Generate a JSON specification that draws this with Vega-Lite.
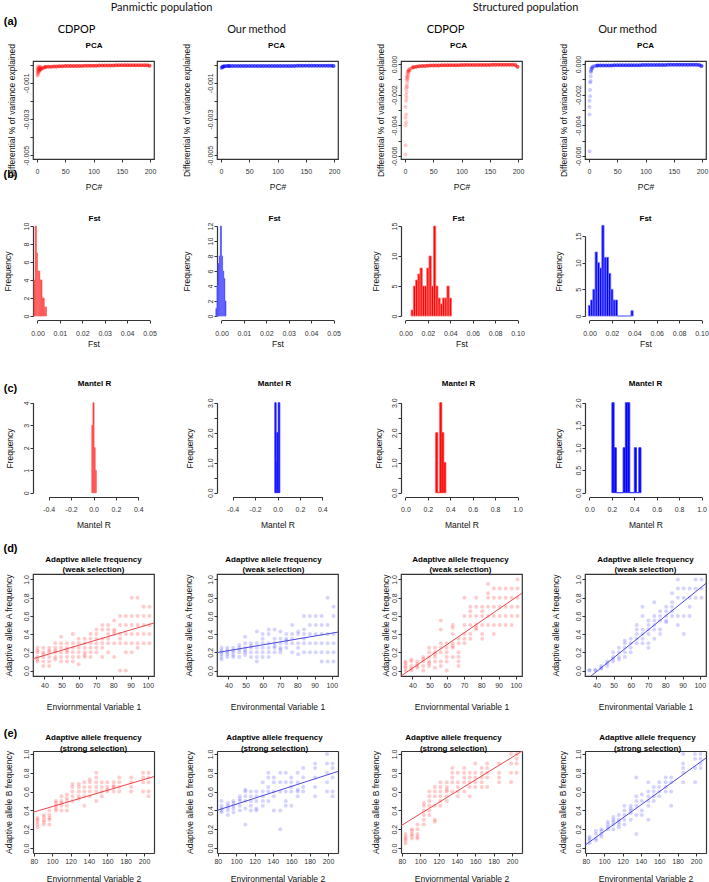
{
"$schema": "https://vega.github.io/schema/vega-lite/v6.json",
"padding": {"left": 2, "top": 1, "right": 0, "bottom": 0},
"bounds": "flush",
"align": "each",
"columns": 4,
"spacing": {"row": 63, "column": 63},
"config": {
 "view": {"stroke": null},
 "axis": {"grid": false, "labelFont": "Liberation Sans", "labelFontSize": 7, "labelColor": "#333", "titleFont": "Liberation Sans", "titleFontSize": 8.5, "titleFontWeight": "normal", "titleColor": "#111", "tickColor": "#333", "tickSize": 3, "domainColor": "#333", "domainWidth": 1.2, "labelFlush": false, "labelOverlap": false, "titleAlign": "center", "titleBaseline": "middle"},
 "axisLeft": {"labelAngle": 270, "labelAlign": "center", "labelBaseline": "bottom", "labelPadding": 1, "titleAngle": 270},
 "axisBottom": {"labelAngle": 0, "labelBaseline": "top", "labelAlign": "center", "titleAngle": 0},
 "axisTop": {"labels": false, "ticks": false, "titleAngle": 0, "titleFontWeight": "bold", "titleFontSize": 8, "titleColor": "#000"},
 "axisRight": {"labels": false, "ticks": false, "titleAngle": 0, "titleFontWeight": "bold", "titleFontSize": 11, "titleColor": "#000"},
 "title": {"font": "Lato", "fontSize": 11, "fontWeight": "normal", "color": "#111", "frame": "group", "anchor": "middle", "baseline": "bottom"}
},
"datasets": {
"p1": [{"x":1,"y":-0.0006},{"x":1,"y":-0.0004},{"x":1,"y":-0.0002},{"x":2,"y":-0.0005},{"x":2,"y":-0.0003},{"x":2,"y":-0.0001},{"x":3,"y":-0.0004},{"x":3,"y":-0.00025},{"x":4,"y":-0.00035},{"x":4,"y":-0.0002},{"x":5,"y":-0.0003},{"x":5,"y":-0.00015},{"x":6,"y":-0.00028},{"x":6,"y":-0.00012},{"x":7,"y":-0.00025},{"x":8,"y":-0.00022},{"x":9,"y":-0.0002},{"x":10,"y":-0.00018},{"x":12,"y":-0.00016},{"x":14,"y":-0.00014},
{"x":15,"y":-0.00013},{"x":20,"y":-0.00012},{"x":25,"y":-0.00011},{"x":30,"y":-0.0001},{"x":35,"y":-0.0001},{"x":40,"y":-0.00009},{"x":45,"y":-0.00009},{"x":50,"y":-0.00008},{"x":55,"y":-0.00008},{"x":60,"y":-0.00008},{"x":65,"y":-0.00007},{"x":70,"y":-0.00007},{"x":75,"y":-0.00007},{"x":80,"y":-0.00007},{"x":85,"y":-0.00006},{"x":90,"y":-0.00006},{"x":95,"y":-0.00006},{"x":100,"y":-0.00006},{"x":105,"y":-0.00006},{"x":110,"y":-0.00005},{"x":115,"y":-0.00005},{"x":120,"y":-0.00005},{"x":125,"y":-0.00005},{"x":130,"y":-0.00005},{"x":135,"y":-0.00005},{"x":140,"y":-0.00004},{"x":145,"y":-0.00004},{"x":150,"y":-0.00004},{"x":155,"y":-0.00004},{"x":160,"y":-0.00004},{"x":165,"y":-0.00004},{"x":170,"y":-0.00003},{"x":175,"y":-0.00003},{"x":180,"y":-0.00003},{"x":185,"y":-0.00003},{"x":190,"y":-0.00003},{"x":195,"y":-0.00003},{"x":199,"y":-0.00006}],
"p2": [{"x":1,"y":-0.00018},{"x":2,"y":-0.00014},{"x":3,"y":-0.00012},{"x":4,"y":-0.0001},{"x":5,"y":-0.0001},{"x":6,"y":-0.00009},{"x":8,"y":-0.00009},{"x":10,"y":-0.00008},{"x":12,"y":-0.00008},{"x":14,"y":-0.00008},
{"x":15,"y":-0.00008},{"x":20,"y":-0.00008},{"x":25,"y":-0.00008},{"x":30,"y":-0.00008},{"x":35,"y":-0.00008},{"x":40,"y":-0.00008},{"x":45,"y":-0.00008},{"x":50,"y":-0.00008},{"x":55,"y":-0.00008},{"x":60,"y":-0.00008},{"x":65,"y":-0.00007},{"x":70,"y":-0.00007},{"x":75,"y":-0.00007},{"x":80,"y":-0.00007},{"x":85,"y":-0.00007},{"x":90,"y":-0.00007},{"x":95,"y":-0.00007},{"x":100,"y":-0.00007},{"x":105,"y":-0.00007},{"x":110,"y":-0.00007},{"x":115,"y":-0.00007},{"x":120,"y":-0.00007},{"x":125,"y":-0.00007},{"x":130,"y":-0.00007},{"x":135,"y":-0.00006},{"x":140,"y":-0.00006},{"x":145,"y":-0.00006},{"x":150,"y":-0.00006},{"x":155,"y":-0.00006},{"x":160,"y":-0.00006},{"x":165,"y":-0.00006},{"x":170,"y":-0.00006},{"x":175,"y":-0.00006},{"x":180,"y":-0.00006},{"x":185,"y":-0.00006},{"x":190,"y":-0.00006},{"x":195,"y":-0.00006},{"x":199,"y":-0.00007}],
"p3": [{"x":1,"y":-0.0059},{"x":1,"y":-0.0053},{"x":1,"y":-0.004},{"x":1,"y":-0.0035},{"x":1,"y":-0.0028},{"x":2,"y":-0.0038},{"x":2,"y":-0.0033},{"x":2,"y":-0.0024},{"x":2,"y":-0.002},{"x":2,"y":-0.0016},{"x":3,"y":-0.0022},{"x":3,"y":-0.0018},{"x":3,"y":-0.0014},{"x":3,"y":-0.001},{"x":3,"y":-0.0008},{"x":4,"y":-0.0015},{"x":4,"y":-0.0012},{"x":4,"y":-0.0009},{"x":4,"y":-0.0006},{"x":5,"y":-0.001},{"x":5,"y":-0.0008},{"x":5,"y":-0.0005},{"x":6,"y":-0.0007},{"x":6,"y":-0.0005},{"x":6,"y":-0.0004},{"x":7,"y":-0.0005},{"x":7,"y":-0.0004},{"x":8,"y":-0.0004},{"x":8,"y":-0.0003},{"x":10,"y":-0.0003},{"x":12,"y":-0.00025},{"x":14,"y":-0.0002},
{"x":15,"y":-0.0002},{"x":20,"y":-0.00017},{"x":25,"y":-0.00015},{"x":30,"y":-0.00013},{"x":35,"y":-0.00012},{"x":40,"y":-0.00011},{"x":45,"y":-0.0001},{"x":50,"y":-0.0001},{"x":55,"y":-0.00009},{"x":60,"y":-0.00009},{"x":65,"y":-0.00008},{"x":70,"y":-0.00008},{"x":75,"y":-0.00008},{"x":80,"y":-0.00007},{"x":85,"y":-0.00007},{"x":90,"y":-0.00007},{"x":95,"y":-0.00007},{"x":100,"y":-0.00006},{"x":105,"y":-0.00006},{"x":110,"y":-0.00006},{"x":115,"y":-0.00006},{"x":120,"y":-0.00006},{"x":125,"y":-0.00006},{"x":130,"y":-0.00006},{"x":135,"y":-0.00006},{"x":140,"y":-0.00006},{"x":145,"y":-0.00006},{"x":150,"y":-0.00006},{"x":155,"y":-0.00005},{"x":160,"y":-0.00005},{"x":165,"y":-0.00005},{"x":170,"y":-0.00005},{"x":175,"y":-0.00005},{"x":180,"y":-0.00005},{"x":185,"y":-0.00005},{"x":190,"y":-0.00005},{"x":195,"y":-0.00006},{"x":199,"y":-0.00018}],
"p4": [{"x":1,"y":-0.0057},{"x":1,"y":-0.0033},{"x":1,"y":-0.0028},{"x":1,"y":-0.0024},{"x":2,"y":-0.0021},{"x":2,"y":-0.0017},{"x":2,"y":-0.0012},{"x":3,"y":-0.0011},{"x":3,"y":-0.0008},{"x":3,"y":-0.0005},{"x":4,"y":-0.0005},{"x":4,"y":-0.0004},{"x":4,"y":-0.0003},{"x":5,"y":-0.0003},{"x":5,"y":-0.0002},{"x":6,"y":-0.00025},{"x":7,"y":-0.00018},{"x":8,"y":-0.00015},{"x":10,"y":-0.00013},{"x":12,"y":-0.00012},{"x":14,"y":-0.00011},
{"x":15,"y":-0.0001},{"x":20,"y":-0.0001},{"x":25,"y":-0.0001},{"x":30,"y":-0.00009},{"x":35,"y":-0.00009},{"x":40,"y":-0.00009},{"x":45,"y":-0.00008},{"x":50,"y":-0.00008},{"x":55,"y":-0.00008},{"x":60,"y":-0.00008},{"x":65,"y":-0.00007},{"x":70,"y":-0.00007},{"x":75,"y":-0.00007},{"x":80,"y":-0.00007},{"x":85,"y":-0.00007},{"x":90,"y":-0.00007},{"x":95,"y":-0.00006},{"x":100,"y":-0.00006},{"x":105,"y":-0.00006},{"x":110,"y":-0.00006},{"x":115,"y":-0.00006},{"x":120,"y":-0.00006},{"x":125,"y":-0.00006},{"x":130,"y":-0.00006},{"x":135,"y":-0.00006},{"x":140,"y":-0.00005},{"x":145,"y":-0.00005},{"x":150,"y":-0.00005},{"x":155,"y":-0.00005},{"x":160,"y":-0.00005},{"x":165,"y":-0.00005},{"x":170,"y":-0.00005},{"x":175,"y":-0.00005},{"x":180,"y":-0.00005},{"x":185,"y":-0.00005},{"x":190,"y":-0.00005},{"x":195,"y":-0.00006},{"x":199,"y":-0.00012}],
"hb1": [{"a":-0.0015,"b":-0.001,"n":4},{"a":-0.001,"b":-0.0005,"n":10},{"a":-0.0005,"b":0,"n":7},{"a":0,"b":0.0005,"n":5},{"a":0.0005,"b":0.001,"n":5},{"a":0.001,"b":0.0015,"n":4},{"a":0.0015,"b":0.002,"n":4},{"a":0.002,"b":0.0025,"n":2},{"a":0.0025,"b":0.003,"n":2},{"a":0.003,"b":0.0035,"n":1},{"a":0.0035,"b":0.004,"n":1}],
"hb2": [{"a":-0.0025,"b":-0.002,"n":1},{"a":-0.002,"b":-0.0015,"n":4},{"a":-0.0015,"b":-0.001,"n":7},{"a":-0.001,"b":-0.0005,"n":8},{"a":-0.0005,"b":0,"n":12},{"a":0,"b":0.0005,"n":8},{"a":0.0005,"b":0.001,"n":6},{"a":0.001,"b":0.0015,"n":5},{"a":0.0015,"b":0.002,"n":2}],
"hb3": [{"a":0.005,"b":0.007,"n":1},{"a":0.007,"b":0.009,"n":5},{"a":0.009,"b":0.011,"n":6},{"a":0.011,"b":0.013,"n":7},{"a":0.013,"b":0.015,"n":8},{"a":0.015,"b":0.017,"n":5},{"a":0.017,"b":0.019,"n":5},{"a":0.019,"b":0.021,"n":8},{"a":0.021,"b":0.023,"n":10},{"a":0.023,"b":0.025,"n":5},{"a":0.025,"b":0.027,"n":15},{"a":0.027,"b":0.029,"n":5},{"a":0.029,"b":0.031,"n":3},{"a":0.031,"b":0.033,"n":2},{"a":0.033,"b":0.035,"n":3},{"a":0.035,"b":0.037,"n":3},{"a":0.037,"b":0.039,"n":5},{"a":0.039,"b":0.041,"n":3}],
"hb4": [{"a":-0.001,"b":0.001,"n":2},{"a":0.001,"b":0.003,"n":3},{"a":0.003,"b":0.005,"n":5},{"a":0.005,"b":0.007,"n":12},{"a":0.007,"b":0.009,"n":10},{"a":0.009,"b":0.011,"n":9},{"a":0.011,"b":0.013,"n":17},{"a":0.013,"b":0.015,"n":11},{"a":0.015,"b":0.017,"n":11},{"a":0.017,"b":0.019,"n":8},{"a":0.019,"b":0.021,"n":5},{"a":0.021,"b":0.023,"n":3},{"a":0.023,"b":0.025,"n":3},{"a":0.025,"b":0.027,"n":0},{"a":0.027,"b":0.029,"n":0},{"a":0.029,"b":0.031,"n":0},{"a":0.031,"b":0.033,"n":0},{"a":0.033,"b":0.035,"n":0},{"a":0.035,"b":0.037,"n":0},{"a":0.037,"b":0.039,"n":1}],
"hc1": [{"a":-0.015,"b":-0.005,"n":3},{"a":-0.005,"b":0.005,"n":4},{"a":0.005,"b":0.015,"n":2},{"a":0.015,"b":0.025,"n":1}],
"hc2": [{"a":-0.024,"b":-0.012,"n":3},{"a":-0.012,"b":-0.006,"n":1},{"a":-0.006,"b":0.006,"n":2},{"a":0.006,"b":0.021,"n":3}],
"hc3": [{"a":0.27,"b":0.288,"n":2},{"a":0.288,"b":0.306,"n":0},{"a":0.306,"b":0.324,"n":3},{"a":0.324,"b":0.342,"n":2},{"a":0.342,"b":0.36,"n":1}],
"hc4": [{"a":0.2,"b":0.22,"n":2},{"a":0.22,"b":0.24,"n":1},{"a":0.24,"b":0.26,"n":0},{"a":0.26,"b":0.28,"n":0},{"a":0.28,"b":0.3,"n":0},{"a":0.3,"b":0.32,"n":1},{"a":0.32,"b":0.34,"n":2},{"a":0.34,"b":0.36,"n":2},{"a":0.36,"b":0.38,"n":0},{"a":0.38,"b":0.4,"n":0},{"a":0.4,"b":0.42,"n":1},{"a":0.42,"b":0.44,"n":0},{"a":0.44,"b":0.46,"n":1}],
"d1": [{"x":36,"y":0.1},{"x":36,"y":0.15},{"x":36,"y":0.2},{"x":36,"y":0.22},{"x":36,"y":0.25},{"x":36,"y":0.12},{"x":39.4,"y":0.05},{"x":39.4,"y":0.1},{"x":39.4,"y":0.15},{"x":39.4,"y":0.2},{"x":39.4,"y":0.25},{"x":39.4,"y":0.18},{"x":42.8,"y":0.1},{"x":42.8,"y":0.15},{"x":42.8,"y":0.2},{"x":42.8,"y":0.22},{"x":42.8,"y":0.25},{"x":42.8,"y":0.05},{"x":46.3,"y":0.12},{"x":46.3,"y":0.15},{"x":46.3,"y":0.2},{"x":46.3,"y":0.22},{"x":46.3,"y":0.25},{"x":46.3,"y":0.3},{"x":49.7,"y":0.1},{"x":49.7,"y":0.15},{"x":49.7,"y":0.2},{"x":49.7,"y":0.25},{"x":49.7,"y":0.3},{"x":49.7,"y":0.37},{"x":53.1,"y":0.1},{"x":53.1,"y":0.15},{"x":53.1,"y":0.2},{"x":53.1,"y":0.22},{"x":53.1,"y":0.25},{"x":53.1,"y":0.3},{"x":56.5,"y":0.1},{"x":56.5,"y":0.15},{"x":56.5,"y":0.2},{"x":56.5,"y":0.25},{"x":56.5,"y":0.3},{"x":56.5,"y":0.4},{"x":59.9,"y":0.07},{"x":59.9,"y":0.15},{"x":59.9,"y":0.2},{"x":59.9,"y":0.25},{"x":59.9,"y":0.3},{"x":59.9,"y":0.35},{"x":63.4,"y":0.15},{"x":63.4,"y":0.17},{"x":63.4,"y":0.2},{"x":63.4,"y":0.25},{"x":63.4,"y":0.3},{"x":63.4,"y":0.35},{"x":66.8,"y":0.15},{"x":66.8,"y":0.2},{"x":66.8,"y":0.25},{"x":66.8,"y":0.3},{"x":66.8,"y":0.35},{"x":66.8,"y":0.4},{"x":70.2,"y":0.2},{"x":70.2,"y":0.25},{"x":70.2,"y":0.3},{"x":70.2,"y":0.35},{"x":70.2,"y":0.4},{"x":70.2,"y":0.45},{"x":73.6,"y":0.15},{"x":73.6,"y":0.25},{"x":73.6,"y":0.3},{"x":73.6,"y":0.35},{"x":73.6,"y":0.45},{"x":73.6,"y":0.5},{"x":77,"y":0.2},{"x":77,"y":0.3},{"x":77,"y":0.35},{"x":77,"y":0.4},{"x":77,"y":0.45},{"x":77,"y":0.5},{"x":80.5,"y":0.15},{"x":80.5,"y":0.3},{"x":80.5,"y":0.4},{"x":80.5,"y":0.43},{"x":80.5,"y":0.45},{"x":80.5,"y":0.55},{"x":83.9,"y":0},{"x":83.9,"y":0.3},{"x":83.9,"y":0.35},{"x":83.9,"y":0.4},{"x":83.9,"y":0.5},{"x":83.9,"y":0.6},{"x":87.3,"y":0},{"x":87.3,"y":0.2},{"x":87.3,"y":0.3},{"x":87.3,"y":0.4},{"x":87.3,"y":0.5},{"x":87.3,"y":0.6},{"x":90.7,"y":0.2},{"x":90.7,"y":0.3},{"x":90.7,"y":0.4},{"x":90.7,"y":0.5},{"x":90.7,"y":0.6},{"x":90.7,"y":0.8},{"x":94.1,"y":0.25},{"x":94.1,"y":0.3},{"x":94.1,"y":0.4},{"x":94.1,"y":0.5},{"x":94.1,"y":0.6},{"x":94.1,"y":0.8},{"x":97.6,"y":0.3},{"x":97.6,"y":0.4},{"x":97.6,"y":0.5},{"x":97.6,"y":0.6},{"x":97.6,"y":0.7},{"x":101,"y":0.3},{"x":101,"y":0.4},{"x":101,"y":0.5},{"x":101,"y":0.6},{"x":101,"y":0.7}],
"d2": [{"x":36,"y":0.12},{"x":36,"y":0.15},{"x":36,"y":0.18},{"x":36,"y":0.2},{"x":36,"y":0.22},{"x":36,"y":0.25},{"x":39.4,"y":0.15},{"x":39.4,"y":0.18},{"x":39.4,"y":0.2},{"x":39.4,"y":0.22},{"x":39.4,"y":0.25},{"x":42.8,"y":0.15},{"x":42.8,"y":0.17},{"x":42.8,"y":0.2},{"x":42.8,"y":0.22},{"x":42.8,"y":0.25},{"x":46.3,"y":0.15},{"x":46.3,"y":0.2},{"x":46.3,"y":0.23},{"x":46.3,"y":0.25},{"x":46.3,"y":0.28},{"x":49.7,"y":0.17},{"x":49.7,"y":0.2},{"x":49.7,"y":0.22},{"x":49.7,"y":0.25},{"x":49.7,"y":0.3},{"x":49.7,"y":0.37},{"x":53.1,"y":0.15},{"x":53.1,"y":0.2},{"x":53.1,"y":0.25},{"x":53.1,"y":0.27},{"x":53.1,"y":0.3},{"x":56.5,"y":0.1},{"x":56.5,"y":0.15},{"x":56.5,"y":0.2},{"x":56.5,"y":0.25},{"x":56.5,"y":0.3},{"x":56.5,"y":0.43},{"x":59.9,"y":0.15},{"x":59.9,"y":0.2},{"x":59.9,"y":0.25},{"x":59.9,"y":0.3},{"x":59.9,"y":0.35},{"x":59.9,"y":0.4},{"x":63.4,"y":0.15},{"x":63.4,"y":0.2},{"x":63.4,"y":0.25},{"x":63.4,"y":0.3},{"x":63.4,"y":0.4},{"x":63.4,"y":0.45},{"x":66.8,"y":0.2},{"x":66.8,"y":0.25},{"x":66.8,"y":0.27},{"x":66.8,"y":0.3},{"x":66.8,"y":0.35},{"x":66.8,"y":0.45},{"x":70.2,"y":0.2},{"x":70.2,"y":0.23},{"x":70.2,"y":0.25},{"x":70.2,"y":0.3},{"x":70.2,"y":0.35},{"x":70.2,"y":0.43},{"x":73.6,"y":0.25},{"x":73.6,"y":0.3},{"x":73.6,"y":0.33},{"x":73.6,"y":0.35},{"x":73.6,"y":0.4},{"x":77,"y":0.2},{"x":77,"y":0.3},{"x":77,"y":0.35},{"x":77,"y":0.4},{"x":77,"y":0.5},{"x":80.5,"y":0.18},{"x":80.5,"y":0.25},{"x":80.5,"y":0.3},{"x":80.5,"y":0.4},{"x":80.5,"y":0.43},{"x":83.9,"y":0.2},{"x":83.9,"y":0.3},{"x":83.9,"y":0.35},{"x":83.9,"y":0.4},{"x":83.9,"y":0.45},{"x":83.9,"y":0.6},{"x":87.3,"y":0.2},{"x":87.3,"y":0.3},{"x":87.3,"y":0.4},{"x":87.3,"y":0.5},{"x":87.3,"y":0.6},{"x":90.7,"y":0.2},{"x":90.7,"y":0.3},{"x":90.7,"y":0.4},{"x":90.7,"y":0.5},{"x":90.7,"y":0.6},{"x":94.1,"y":0.1},{"x":94.1,"y":0.2},{"x":94.1,"y":0.3},{"x":94.1,"y":0.4},{"x":94.1,"y":0.5},{"x":94.1,"y":0.6},{"x":97.6,"y":0.1},{"x":97.6,"y":0.2},{"x":97.6,"y":0.3},{"x":97.6,"y":0.4},{"x":97.6,"y":0.5},{"x":97.6,"y":0.8},{"x":101,"y":0.1},{"x":101,"y":0.2},{"x":101,"y":0.3},{"x":101,"y":0.4},{"x":101,"y":0.6},{"x":101,"y":0.7}],
"d3": [{"x":36,"y":0},{"x":36,"y":0.03},{"x":36,"y":0.05},{"x":36,"y":0.08},{"x":36,"y":0.1},{"x":39.4,"y":0},{"x":39.4,"y":0.02},{"x":39.4,"y":0.05},{"x":39.4,"y":0.1},{"x":39.4,"y":0.12},{"x":42.8,"y":0.03},{"x":42.8,"y":0.05},{"x":42.8,"y":0.07},{"x":42.8,"y":0.1},{"x":46.3,"y":0},{"x":46.3,"y":0.05},{"x":46.3,"y":0.1},{"x":46.3,"y":0.13},{"x":46.3,"y":0.15},{"x":49.7,"y":0.05},{"x":49.7,"y":0.08},{"x":49.7,"y":0.1},{"x":49.7,"y":0.15},{"x":49.7,"y":0.2},{"x":49.7,"y":0.25},{"x":53.1,"y":0.03},{"x":53.1,"y":0.1},{"x":53.1,"y":0.15},{"x":53.1,"y":0.18},{"x":53.1,"y":0.2},{"x":53.1,"y":0.25},{"x":56.5,"y":0.05},{"x":56.5,"y":0.1},{"x":56.5,"y":0.2},{"x":56.5,"y":0.25},{"x":56.5,"y":0.3},{"x":56.5,"y":0.45},{"x":56.5,"y":0.55},{"x":59.9,"y":0},{"x":59.9,"y":0.1},{"x":59.9,"y":0.15},{"x":59.9,"y":0.2},{"x":59.9,"y":0.25},{"x":59.9,"y":0.3},{"x":63.4,"y":0.15},{"x":63.4,"y":0.25},{"x":63.4,"y":0.27},{"x":63.4,"y":0.3},{"x":63.4,"y":0.4},{"x":63.4,"y":0.47},{"x":63.4,"y":0.5},{"x":66.8,"y":0.05},{"x":66.8,"y":0.1},{"x":66.8,"y":0.15},{"x":66.8,"y":0.2},{"x":66.8,"y":0.3},{"x":66.8,"y":0.35},{"x":70.2,"y":0.3},{"x":70.2,"y":0.35},{"x":70.2,"y":0.4},{"x":70.2,"y":0.5},{"x":70.2,"y":0.6},{"x":70.2,"y":0.8},{"x":73.6,"y":0.35},{"x":73.6,"y":0.4},{"x":73.6,"y":0.5},{"x":73.6,"y":0.6},{"x":73.6,"y":0.65},{"x":73.6,"y":0.7},{"x":77,"y":0.45},{"x":77,"y":0.47},{"x":77,"y":0.5},{"x":77,"y":0.6},{"x":77,"y":0.7},{"x":77,"y":0.8},{"x":80.5,"y":0.35},{"x":80.5,"y":0.4},{"x":80.5,"y":0.5},{"x":80.5,"y":0.6},{"x":80.5,"y":0.65},{"x":80.5,"y":0.7},{"x":83.9,"y":0.5},{"x":83.9,"y":0.6},{"x":83.9,"y":0.7},{"x":83.9,"y":0.8},{"x":83.9,"y":0.85},{"x":83.9,"y":0.95},{"x":87.3,"y":0.4},{"x":87.3,"y":0.5},{"x":87.3,"y":0.6},{"x":87.3,"y":0.7},{"x":87.3,"y":0.8},{"x":87.3,"y":0.9},{"x":90.7,"y":0.5},{"x":90.7,"y":0.6},{"x":90.7,"y":0.7},{"x":90.7,"y":0.8},{"x":90.7,"y":0.9},{"x":94.1,"y":0.5},{"x":94.1,"y":0.6},{"x":94.1,"y":0.7},{"x":94.1,"y":0.8},{"x":94.1,"y":0.9},{"x":97.6,"y":0.5},{"x":97.6,"y":0.6},{"x":97.6,"y":0.7},{"x":97.6,"y":0.8},{"x":97.6,"y":0.9},{"x":101,"y":0.6},{"x":101,"y":0.7},{"x":101,"y":0.8},{"x":101,"y":0.9},{"x":101,"y":1}],
"d4": [{"x":36,"y":0},{"x":36,"y":0.005},{"x":39.4,"y":0},{"x":39.4,"y":0.01},{"x":42.8,"y":0.02},{"x":42.8,"y":0.03},{"x":42.8,"y":0.05},{"x":46.3,"y":0.05},{"x":46.3,"y":0.08},{"x":46.3,"y":0.1},{"x":49.7,"y":0.1},{"x":49.7,"y":0.13},{"x":49.7,"y":0.15},{"x":49.7,"y":0.2},{"x":53.1,"y":0.12},{"x":53.1,"y":0.15},{"x":53.1,"y":0.2},{"x":53.1,"y":0.25},{"x":56.5,"y":0.15},{"x":56.5,"y":0.2},{"x":56.5,"y":0.25},{"x":56.5,"y":0.3},{"x":56.5,"y":0.33},{"x":59.9,"y":0.2},{"x":59.9,"y":0.25},{"x":59.9,"y":0.3},{"x":59.9,"y":0.35},{"x":63.4,"y":0.3},{"x":63.4,"y":0.35},{"x":63.4,"y":0.4},{"x":63.4,"y":0.45},{"x":63.4,"y":0.5},{"x":66.8,"y":0.3},{"x":66.8,"y":0.35},{"x":66.8,"y":0.4},{"x":66.8,"y":0.45},{"x":66.8,"y":0.6},{"x":66.8,"y":0.7},{"x":70.2,"y":0.25},{"x":70.2,"y":0.3},{"x":70.2,"y":0.4},{"x":70.2,"y":0.45},{"x":70.2,"y":0.5},{"x":70.2,"y":0.55},{"x":73.6,"y":0.35},{"x":73.6,"y":0.45},{"x":73.6,"y":0.5},{"x":73.6,"y":0.55},{"x":73.6,"y":0.6},{"x":73.6,"y":0.75},{"x":77,"y":0.4},{"x":77,"y":0.45},{"x":77,"y":0.55},{"x":77,"y":0.6},{"x":77,"y":0.65},{"x":80.5,"y":0.53},{"x":80.5,"y":0.55},{"x":80.5,"y":0.6},{"x":80.5,"y":0.65},{"x":80.5,"y":0.7},{"x":83.9,"y":0.6},{"x":83.9,"y":0.65},{"x":83.9,"y":0.7},{"x":83.9,"y":0.75},{"x":83.9,"y":0.85},{"x":87.3,"y":0.5},{"x":87.3,"y":0.6},{"x":87.3,"y":0.8},{"x":87.3,"y":0.9},{"x":87.3,"y":1},{"x":90.7,"y":0.4},{"x":90.7,"y":0.6},{"x":90.7,"y":0.8},{"x":90.7,"y":0.9},{"x":94.1,"y":0.6},{"x":94.1,"y":0.7},{"x":94.1,"y":0.8},{"x":94.1,"y":0.9},{"x":97.6,"y":0.8},{"x":97.6,"y":0.9},{"x":97.6,"y":1},{"x":101,"y":0.8},{"x":101,"y":0.9},{"x":101,"y":1}],
"e1": [{"x":84,"y":0.22},{"x":84,"y":0.25},{"x":84,"y":0.28},{"x":84,"y":0.3},{"x":84,"y":0.32},{"x":91,"y":0.25},{"x":91,"y":0.28},{"x":91,"y":0.3},{"x":91,"y":0.33},{"x":91,"y":0.35},{"x":97,"y":0.25},{"x":97,"y":0.3},{"x":97,"y":0.32},{"x":97,"y":0.35},{"x":97,"y":0.4},{"x":104,"y":0.4},{"x":104,"y":0.42},{"x":104,"y":0.45},{"x":104,"y":0.48},{"x":104,"y":0.5},{"x":110,"y":0.4},{"x":110,"y":0.45},{"x":110,"y":0.48},{"x":110,"y":0.5},{"x":110,"y":0.55},{"x":116,"y":0.4},{"x":116,"y":0.45},{"x":116,"y":0.5},{"x":116,"y":0.53},{"x":116,"y":0.57},{"x":122,"y":0.5},{"x":122,"y":0.55},{"x":122,"y":0.6},{"x":122,"y":0.65},{"x":122,"y":0.68},{"x":129,"y":0.52},{"x":129,"y":0.55},{"x":129,"y":0.6},{"x":129,"y":0.65},{"x":129,"y":0.68},{"x":135,"y":0.45},{"x":135,"y":0.55},{"x":135,"y":0.6},{"x":135,"y":0.65},{"x":135,"y":0.7},{"x":141,"y":0.55},{"x":141,"y":0.6},{"x":141,"y":0.65},{"x":141,"y":0.7},{"x":141,"y":0.73},{"x":148,"y":0.5},{"x":148,"y":0.6},{"x":148,"y":0.65},{"x":148,"y":0.7},{"x":148,"y":0.75},{"x":148,"y":0.8},{"x":154,"y":0.55},{"x":154,"y":0.6},{"x":154,"y":0.65},{"x":154,"y":0.7},{"x":160,"y":0.6},{"x":160,"y":0.62},{"x":160,"y":0.65},{"x":160,"y":0.7},{"x":167,"y":0.6},{"x":167,"y":0.65},{"x":167,"y":0.66},{"x":167,"y":0.7},{"x":173,"y":0.6},{"x":173,"y":0.65},{"x":173,"y":0.7},{"x":173,"y":0.75},{"x":186,"y":0.6},{"x":186,"y":0.65},{"x":186,"y":0.7},{"x":186,"y":0.75},{"x":199,"y":0.6},{"x":199,"y":0.7},{"x":199,"y":0.75},{"x":199,"y":0.8},{"x":205,"y":0.55},{"x":205,"y":0.6},{"x":205,"y":0.7},{"x":205,"y":0.75},{"x":205,"y":0.8}],
"e2": [{"x":84,"y":0.38},{"x":84,"y":0.4},{"x":84,"y":0.42},{"x":84,"y":0.45},{"x":84,"y":0.5},{"x":91,"y":0.35},{"x":91,"y":0.4},{"x":91,"y":0.43},{"x":91,"y":0.45},{"x":91,"y":0.48},{"x":97,"y":0.38},{"x":97,"y":0.42},{"x":97,"y":0.45},{"x":97,"y":0.48},{"x":97,"y":0.5},{"x":104,"y":0.4},{"x":104,"y":0.45},{"x":104,"y":0.5},{"x":104,"y":0.52},{"x":104,"y":0.55},{"x":110,"y":0.25},{"x":110,"y":0.42},{"x":110,"y":0.5},{"x":110,"y":0.55},{"x":110,"y":0.6},{"x":110,"y":0.62},{"x":116,"y":0.4},{"x":116,"y":0.45},{"x":116,"y":0.5},{"x":116,"y":0.55},{"x":116,"y":0.6},{"x":122,"y":0.4},{"x":122,"y":0.42},{"x":122,"y":0.5},{"x":122,"y":0.55},{"x":122,"y":0.6},{"x":129,"y":0.45},{"x":129,"y":0.5},{"x":129,"y":0.55},{"x":129,"y":0.6},{"x":129,"y":0.7},{"x":135,"y":0.5},{"x":135,"y":0.6},{"x":135,"y":0.65},{"x":135,"y":0.75},{"x":135,"y":0.8},{"x":141,"y":0.4},{"x":141,"y":0.55},{"x":141,"y":0.6},{"x":141,"y":0.7},{"x":141,"y":0.75},{"x":148,"y":0.2},{"x":148,"y":0.4},{"x":148,"y":0.6},{"x":148,"y":0.7},{"x":148,"y":0.8},{"x":154,"y":0.45},{"x":154,"y":0.5},{"x":154,"y":0.6},{"x":154,"y":0.7},{"x":154,"y":0.8},{"x":160,"y":0.45},{"x":160,"y":0.6},{"x":160,"y":0.65},{"x":160,"y":0.7},{"x":160,"y":0.75},{"x":167,"y":0.55},{"x":167,"y":0.6},{"x":167,"y":0.62},{"x":167,"y":0.7},{"x":167,"y":0.8},{"x":173,"y":0.6},{"x":173,"y":0.65},{"x":173,"y":0.75},{"x":173,"y":0.85},{"x":186,"y":0.55},{"x":186,"y":0.65},{"x":186,"y":0.75},{"x":186,"y":0.85},{"x":186,"y":0.9},{"x":199,"y":0.6},{"x":199,"y":0.7},{"x":199,"y":0.8},{"x":199,"y":0.9},{"x":199,"y":1},{"x":205,"y":0.55},{"x":205,"y":0.6},{"x":205,"y":0.75},{"x":205,"y":0.85},{"x":205,"y":0.9}],
"e3": [{"x":84,"y":0.05},{"x":84,"y":0.08},{"x":84,"y":0.1},{"x":84,"y":0.12},{"x":84,"y":0.15},{"x":91,"y":0.1},{"x":91,"y":0.13},{"x":91,"y":0.15},{"x":91,"y":0.18},{"x":91,"y":0.2},{"x":97,"y":0.1},{"x":97,"y":0.12},{"x":97,"y":0.15},{"x":97,"y":0.2},{"x":97,"y":0.25},{"x":104,"y":0.25},{"x":104,"y":0.3},{"x":104,"y":0.35},{"x":104,"y":0.4},{"x":104,"y":0.45},{"x":104,"y":0.48},{"x":110,"y":0.35},{"x":110,"y":0.4},{"x":110,"y":0.45},{"x":110,"y":0.5},{"x":110,"y":0.55},{"x":110,"y":0.6},{"x":116,"y":0.28},{"x":116,"y":0.3},{"x":116,"y":0.45},{"x":116,"y":0.55},{"x":116,"y":0.6},{"x":116,"y":0.65},{"x":122,"y":0.45},{"x":122,"y":0.5},{"x":122,"y":0.55},{"x":122,"y":0.6},{"x":122,"y":0.65},{"x":122,"y":0.7},{"x":129,"y":0.5},{"x":129,"y":0.55},{"x":129,"y":0.6},{"x":129,"y":0.62},{"x":129,"y":0.65},{"x":129,"y":0.7},{"x":135,"y":0.6},{"x":135,"y":0.7},{"x":135,"y":0.75},{"x":135,"y":0.8},{"x":135,"y":0.85},{"x":141,"y":0.55},{"x":141,"y":0.6},{"x":141,"y":0.65},{"x":141,"y":0.7},{"x":141,"y":0.8},{"x":148,"y":0.6},{"x":148,"y":0.7},{"x":148,"y":0.75},{"x":148,"y":0.8},{"x":148,"y":0.85},{"x":154,"y":0.55},{"x":154,"y":0.65},{"x":154,"y":0.7},{"x":154,"y":0.75},{"x":154,"y":0.8},{"x":160,"y":0.65},{"x":160,"y":0.7},{"x":160,"y":0.75},{"x":160,"y":0.8},{"x":160,"y":0.9},{"x":167,"y":0.65},{"x":167,"y":0.7},{"x":167,"y":0.75},{"x":167,"y":0.8},{"x":167,"y":0.85},{"x":173,"y":0.65},{"x":173,"y":0.75},{"x":173,"y":0.8},{"x":173,"y":0.85},{"x":173,"y":0.9},{"x":186,"y":0.7},{"x":186,"y":0.75},{"x":186,"y":0.8},{"x":186,"y":0.9},{"x":199,"y":0.7},{"x":199,"y":0.8},{"x":199,"y":0.9},{"x":199,"y":1},{"x":205,"y":0.8},{"x":205,"y":0.9},{"x":205,"y":0.95},{"x":205,"y":1}],
"e4": [{"x":84,"y":0.05},{"x":84,"y":0.08},{"x":84,"y":0.1},{"x":84,"y":0.12},{"x":91,"y":0.08},{"x":91,"y":0.1},{"x":91,"y":0.15},{"x":91,"y":0.18},{"x":97,"y":0.12},{"x":97,"y":0.15},{"x":97,"y":0.18},{"x":97,"y":0.2},{"x":104,"y":0.2},{"x":104,"y":0.22},{"x":104,"y":0.25},{"x":104,"y":0.28},{"x":110,"y":0.2},{"x":110,"y":0.25},{"x":110,"y":0.28},{"x":110,"y":0.3},{"x":110,"y":0.33},{"x":116,"y":0.22},{"x":116,"y":0.25},{"x":116,"y":0.28},{"x":116,"y":0.3},{"x":116,"y":0.35},{"x":122,"y":0.25},{"x":122,"y":0.3},{"x":122,"y":0.35},{"x":122,"y":0.4},{"x":122,"y":0.45},{"x":129,"y":0.3},{"x":129,"y":0.37},{"x":129,"y":0.4},{"x":129,"y":0.42},{"x":129,"y":0.45},{"x":135,"y":0.15},{"x":135,"y":0.35},{"x":135,"y":0.45},{"x":135,"y":0.5},{"x":135,"y":0.55},{"x":135,"y":0.75},{"x":141,"y":0.35},{"x":141,"y":0.4},{"x":141,"y":0.5},{"x":141,"y":0.57},{"x":148,"y":0.3},{"x":148,"y":0.45},{"x":148,"y":0.5},{"x":148,"y":0.55},{"x":148,"y":0.6},{"x":148,"y":0.7},{"x":154,"y":0.5},{"x":154,"y":0.55},{"x":154,"y":0.6},{"x":154,"y":0.65},{"x":160,"y":0.55},{"x":160,"y":0.6},{"x":160,"y":0.65},{"x":160,"y":0.7},{"x":167,"y":0.6},{"x":167,"y":0.65},{"x":167,"y":0.7},{"x":167,"y":0.75},{"x":173,"y":0.45},{"x":173,"y":0.6},{"x":173,"y":0.7},{"x":173,"y":0.75},{"x":186,"y":0.7},{"x":186,"y":0.8},{"x":186,"y":0.85},{"x":186,"y":0.9},{"x":186,"y":1},{"x":199,"y":0.7},{"x":199,"y":0.85},{"x":199,"y":0.95},{"x":199,"y":1},{"x":205,"y":0.85},{"x":205,"y":0.9},{"x":205,"y":0.95},{"x":205,"y":1}],
"ld1": [{"x":33.4,"y":0.129},{"x":103.6,"y":0.522}],
"ld2": [{"x":33.4,"y":0.197},{"x":103.6,"y":0.422}],
"ld3": [{"x":33.4,"y":-0.06},{"x":103.6,"y":0.849}],
"ld4": [{"x":36.9,"y":-0.06},{"x":103.6,"y":0.957}],
"le1": [{"x":79.1,"y":0.38},{"x":210.9,"y":0.76}],
"le2": [{"x":79.1,"y":0.4},{"x":210.9,"y":0.815}],
"le3": [{"x":79.1,"y":0.237},{"x":210.9,"y":1.03}],
"le4": [{"x":79.1,"y":0.03},{"x":210.9,"y":0.957}]
},
"concat": [
{"width":121,"height":98,"view":{"stroke":"#333","strokeWidth":1.2},"title":{"text":"Panmictic population","dx":68,"offset":2},"resolve":{"axis":{"x":"independent","y":"independent"}},
 "layer":[
 {"data":{"name":"p1"},"transform":[{"filter":"datum.x < 15"}],"mark":{"type":"circle","size":16,"color":"#ff0000","opacity":0.3},
  "encoding":{"x":{"field":"x","type":"quantitative","scale":{"domain":[-7,207],"nice":false,"zero":false},"axis":{"orient":"bottom","domain":false,"values":[0,50,100,150,200],"labelPadding":5,"title":"PC#","titleX":60.5,"titleY":27}},
   "y":{"field":"y","type":"quantitative","scale":{"domain":[-0.0052,0.0002],"nice":false,"zero":false},"axis":{"orient":"left","domain":false,"values":[0,-0.001,-0.002,-0.003,-0.004,-0.005],"labelExpr":"round(abs(datum.value)*1000) % 2 == 1 ? replace(format(datum.value, '.3f'), '\u2212', '-') : ''","title":"Differential % of variance explained","titleX":-22,"titleY":49}}}},
 {"data":{"name":"p1"},"transform":[{"filter":"datum.x >= 15"}],"mark":{"type":"circle","size":16,"color":"#ff0000","opacity":0.7},
  "encoding":{"x":{"field":"x","type":"quantitative","scale":{"domain":[-7,207],"nice":false,"zero":false},"axis":{"orient":"top","domain":false,"title":"CDPOP","titleX":43,"titleY":-32,"titleFont":"Lato","titleFontSize":11,"titleFontWeight":"normal"}},
   "y":{"field":"y","type":"quantitative","scale":{"domain":[-0.0052,0.0002],"nice":false,"zero":false},"axis":{"orient":"right","domain":false,"title":"(a)","titleX":-144,"titleY":-40}}}}
 ]},
{"width":121,"height":98,"view":{"stroke":"#333","strokeWidth":1.2},"title":{"text":"Our method","dx":-21,"offset":6.5},"resolve":{"axis":{"x":"independent","y":"independent"}},
 "layer":[
 {"data":{"name":"p2"},"transform":[{"filter":"datum.x < 15"}],"mark":{"type":"circle","size":16,"color":"#0000ff","opacity":0.4},
  "encoding":{"x":{"field":"x","type":"quantitative","scale":{"domain":[-7,207],"nice":false,"zero":false},"axis":{"orient":"bottom","domain":false,"values":[0,50,100,150,200],"labelPadding":5,"title":"PC#","titleX":60.5,"titleY":27}},
   "y":{"field":"y","type":"quantitative","scale":{"domain":[-0.0052,0.0002],"nice":false,"zero":false},"axis":{"orient":"left","domain":false,"values":[0,-0.001,-0.002,-0.003,-0.004,-0.005],"labelExpr":"round(abs(datum.value)*1000) % 2 == 1 ? replace(format(datum.value, '.3f'), '\u2212', '-') : ''","title":"Differential % of variance explained","titleX":-31,"titleY":49}}}},
 {"data":{"name":"p2"},"transform":[{"filter":"datum.x >= 15"}],"mark":{"type":"circle","size":16,"color":"#0000ff","opacity":0.7},
  "encoding":{"x":{"field":"x","type":"quantitative","scale":{"domain":[-7,207],"nice":false,"zero":false},"axis":{"orient":"top","domain":false,"title":"PCA","titleX":59,"titleY":-16}},
   "y":{"field":"y","type":"quantitative","scale":{"domain":[-0.0052,0.0002],"nice":false,"zero":false},"axis":{"orient":"right","domain":false,"title":"PCA","titleX":-244.5,"titleY":-16,"titleFontSize":8}}}}
 ]},
{"width":121,"height":98,"view":{"stroke":"#333","strokeWidth":1.2},"title":{"text":"Structured population","dx":64,"offset":10},"resolve":{"axis":{"x":"independent","y":"independent"}},
 "layer":[
 {"data":{"name":"p3"},"transform":[{"filter":"datum.x < 15"}],"mark":{"type":"circle","size":16,"color":"#ff0000","opacity":0.2},
  "encoding":{"x":{"field":"x","type":"quantitative","scale":{"domain":[-7,207],"nice":false,"zero":false},"axis":{"orient":"bottom","domain":false,"values":[0,50,100,150,200],"labelPadding":5,"title":"PC#","titleX":60.5,"titleY":27}},
   "y":{"field":"y","type":"quantitative","scale":{"domain":[-0.0062,0.0002],"nice":false,"zero":false},"axis":{"orient":"left","domain":false,"values":[0,-0.001,-0.002,-0.003,-0.004,-0.005,-0.006],"labelExpr":"round(abs(datum.value)*1000) % 2 == 0 ? replace(format(datum.value, '.3f'), '\u2212', '-') : ''","title":"Differential % of variance explained","titleX":-21,"titleY":49}}}},
 {"data":{"name":"p3"},"transform":[{"filter":"datum.x >= 15"}],"mark":{"type":"circle","size":16,"color":"#ff0000","opacity":0.7},
  "encoding":{"x":{"field":"x","type":"quantitative","scale":{"domain":[-7,207],"nice":false,"zero":false},"axis":{"orient":"top","domain":false,"title":"CDPOP","titleX":44,"titleY":-32,"titleFont":"Lato","titleFontSize":11,"titleFontWeight":"normal"}},
   "y":{"field":"y","type":"quantitative","scale":{"domain":[-0.0062,0.0002],"nice":false,"zero":false},"axis":{"orient":"right","domain":false,"title":"PCA","titleX":-64,"titleY":-16,"titleFontSize":8}}}}
 ]},
{"width":121,"height":98,"view":{"stroke":"#333","strokeWidth":1.2},"title":{"text":"Our method","dx":-18,"offset":6.5},"resolve":{"axis":{"x":"independent","y":"independent"}},
 "layer":[
 {"data":{"name":"p4"},"transform":[{"filter":"datum.x < 15"}],"mark":{"type":"circle","size":16,"color":"#0000ff","opacity":0.2},
  "encoding":{"x":{"field":"x","type":"quantitative","scale":{"domain":[-7,207],"nice":false,"zero":false},"axis":{"orient":"bottom","domain":false,"values":[0,50,100,150,200],"labelPadding":5,"title":"PC#","titleX":60.5,"titleY":27}},
   "y":{"field":"y","type":"quantitative","scale":{"domain":[-0.0062,0.0002],"nice":false,"zero":false},"axis":{"orient":"left","domain":false,"values":[0,-0.001,-0.002,-0.003,-0.004,-0.005,-0.006],"labelExpr":"round(abs(datum.value)*1000) % 2 == 0 ? replace(format(datum.value, '.3f'), '\u2212', '-') : ''","title":"Differential % of variance explained","titleX":-22,"titleY":49}}}},
 {"data":{"name":"p4"},"transform":[{"filter":"datum.x >= 15"}],"mark":{"type":"circle","size":16,"color":"#0000ff","opacity":0.7},
  "encoding":{"x":{"field":"x","type":"quantitative","scale":{"domain":[-7,207],"nice":false,"zero":false},"axis":{"orient":"top","domain":false,"title":"PCA","titleX":60,"titleY":-16}},
   "y":{"field":"y","type":"quantitative","scale":{"domain":[-0.0062,0.0002],"nice":false,"zero":false},"axis":{"orient":"right","domain":false,"title":"(b)","titleX":-696,"titleY":113}}}}
 ]},

{"width":121,"height":114,"resolve":{"axis":{"x":"independent","y":"independent"}},
 "layer":[
 {"data":{"name":"hb1"},"mark":{"type":"rect","color":"#ff0000"},
  "encoding":{"x":{"field":"a","type":"quantitative","scale":{"domain":[-0.002,0.052],"nice":false,"zero":false},"axis":{"orient":"bottom","values":[0,0.01,0.02,0.03,0.04,0.05],"format":".2f","offset":-16,"domainDash":[0,4.5,112,1000],"labelPadding":6,"title":"Fst","titleX":60.5,"titleY":23}},"x2":{"field":"b"},
   "y":{"field":"n","type":"quantitative","scale":{"domain":[-2.222,10.444],"nice":false,"zero":false},"axis":{"orient":"left","values":[0,2,4,6,8,10],"format":"d","domainDash":[0,20,90,1000],"title":"Frequency","titleX":-26,"titleY":49}},"y2":{"datum":0}}},
 {"data":{"name":"hb1"},"mark":{"type":"rect","fillOpacity":0,"stroke":"#ff6a6a","strokeWidth":0.8},
  "encoding":{"x":{"field":"a","type":"quantitative","scale":{"domain":[-0.002,0.052],"nice":false,"zero":false},"axis":{"orient":"top","domain":false,"title":"Fst","titleX":61,"titleY":-4}},"x2":{"field":"b"},
   "y":{"field":"n","type":"quantitative","scale":{"domain":[-2.222,10.444],"nice":false,"zero":false},"axis":{"orient":"right","domain":false,"title":"(c)","titleX":-144,"titleY":166}},"y2":{"datum":0}}}
 ]},
{"width":121,"height":114,"resolve":{"axis":{"x":"independent","y":"independent"}},
 "layer":[
 {"data":{"name":"hb2"},"mark":{"type":"rect","color":"#0000ff"},
  "encoding":{"x":{"field":"a","type":"quantitative","scale":{"domain":[-0.002,0.052],"nice":false,"zero":false},"axis":{"orient":"bottom","values":[0,0.01,0.02,0.03,0.04,0.05],"format":".2f","offset":-16,"domainDash":[0,4.5,112,1000],"labelPadding":6,"title":"Fst","titleX":60.5,"titleY":23}},"x2":{"field":"b"},
   "y":{"field":"n","type":"quantitative","scale":{"domain":[-2.667,12.533],"nice":false,"zero":false},"axis":{"orient":"left","values":[0,2,4,6,8,10,12],"format":"d","domainDash":[0,20,90,1000],"title":"Frequency","titleX":-31,"titleY":49}},"y2":{"datum":0}}},
 {"data":{"name":"hb2"},"mark":{"type":"rect","fillOpacity":0,"stroke":"#6a6aff","strokeWidth":0.8},
  "encoding":{"x":{"field":"a","type":"quantitative","scale":{"domain":[-0.002,0.052],"nice":false,"zero":false},"axis":{"orient":"top","domain":false,"title":"Fst","titleX":57,"titleY":-4}},"x2":{"field":"b"},
   "y":{"field":"n","type":"quantitative","scale":{"domain":[-2.667,12.533],"nice":false,"zero":false},"axis":null},"y2":{"datum":0}}}
 ]},
{"width":121,"height":114,"resolve":{"axis":{"x":"independent","y":"independent"}},
 "layer":[
 {"data":{"name":"hb3"},"mark":{"type":"rect","color":"#ff0000"},
  "encoding":{"x":{"field":"a","type":"quantitative","scale":{"domain":[-0.004,0.104],"nice":false,"zero":false},"axis":{"orient":"bottom","values":[0,0.02,0.04,0.06,0.08,0.1],"format":".2f","offset":-16,"domainDash":[0,4.5,112,1000],"labelPadding":6,"title":"Fst","titleX":60.5,"titleY":23}},"x2":{"field":"b"},
   "y":{"field":"n","type":"quantitative","scale":{"domain":[-3.333,15.667],"nice":false,"zero":false},"axis":{"orient":"left","values":[0,5,10,15],"format":"d","domainDash":[0,20,90,1000],"title":"Frequency","titleX":-26,"titleY":49}},"y2":{"datum":0}}},
 {"data":{"name":"hb3"},"mark":{"type":"rect","fillOpacity":0,"stroke":"#ff6a6a","strokeWidth":0.8},
  "encoding":{"x":{"field":"a","type":"quantitative","scale":{"domain":[-0.004,0.104],"nice":false,"zero":false},"axis":{"orient":"top","domain":false,"title":"Fst","titleX":57,"titleY":-4}},"x2":{"field":"b"},
   "y":{"field":"n","type":"quantitative","scale":{"domain":[-3.333,15.667],"nice":false,"zero":false},"axis":null},"y2":{"datum":0}}}
 ]},
{"width":121,"height":114,"resolve":{"axis":{"x":"independent","y":"independent"}},
 "layer":[
 {"data":{"name":"hb4"},"mark":{"type":"rect","color":"#0000ff"},
  "encoding":{"x":{"field":"a","type":"quantitative","scale":{"domain":[-0.004,0.104],"nice":false,"zero":false},"axis":{"orient":"bottom","values":[0,0.02,0.04,0.06,0.08,0.1],"format":".2f","offset":-16,"domainDash":[0,4.5,112,1000],"labelPadding":6,"title":"Fst","titleX":60.5,"titleY":23}},"x2":{"field":"b"},
   "y":{"field":"n","type":"quantitative","scale":{"domain":[-3.75,17.625],"nice":false,"zero":false},"axis":{"orient":"left","values":[0,5,10,15],"format":"d","domainDash":[0,20,80,1000],"title":"Frequency","titleX":-27,"titleY":49}},"y2":{"datum":0}}},
 {"data":{"name":"hb4"},"mark":{"type":"rect","fillOpacity":0,"stroke":"#6a6aff","strokeWidth":0.8},
  "encoding":{"x":{"field":"a","type":"quantitative","scale":{"domain":[-0.004,0.104],"nice":false,"zero":false},"axis":{"orient":"top","domain":false,"title":"Fst","titleX":60,"titleY":-4}},"x2":{"field":"b"},
   "y":{"field":"n","type":"quantitative","scale":{"domain":[-3.75,17.625],"nice":false,"zero":false},"axis":null},"y2":{"datum":0}}}
 ]},

{"width":121,"height":112,"resolve":{"axis":{"x":"independent","y":"independent"}},
 "layer":[
 {"data":{"name":"hc1"},"mark":{"type":"rect","color":"#ff0000"},
  "encoding":{"x":{"field":"a","type":"quantitative","scale":{"domain":[-0.54,0.54],"nice":false,"zero":false},"axis":{"orient":"bottom","values":[-0.4,-0.2,0,0.2,0.4],"labelExpr":"replace(format(datum.value, '.1f'), '\u2212', '-')","offset":-14,"domainDash":[0,15.7,89.6,1000],"labelPadding":5,"title":"Mantel R","titleX":60.5,"titleY":27}},"x2":{"field":"b"},
   "y":{"field":"n","type":"quantitative","scale":{"domain":[-0.813,4.164],"nice":false,"zero":false},"axis":{"orient":"left","values":[0,1,2,3,4],"format":"d","domainDash":[0,18.3,90,1000],"title":"Frequency","titleX":-24,"titleY":49}},"y2":{"datum":0}}},
 {"data":{"name":"hc1"},"mark":{"type":"rect","fillOpacity":0,"stroke":"#ff6a6a","strokeWidth":0.8},
  "encoding":{"x":{"field":"a","type":"quantitative","scale":{"domain":[-0.54,0.54],"nice":false,"zero":false},"axis":{"orient":"top","domain":false,"title":"Mantel R","titleX":61,"titleY":-16}},"x2":{"field":"b"},
   "y":{"field":"n","type":"quantitative","scale":{"domain":[-0.813,4.164],"nice":false,"zero":false},"axis":{"orient":"right","domain":false,"title":"(d)","titleX":-144,"titleY":149}},"y2":{"datum":0}}}
 ]},
{"width":121,"height":112,"resolve":{"axis":{"x":"independent","y":"independent"}},
 "layer":[
 {"data":{"name":"hc2"},"mark":{"type":"rect","color":"#0000ff"},
  "encoding":{"x":{"field":"a","type":"quantitative","scale":{"domain":[-0.54,0.54],"nice":false,"zero":false},"axis":{"orient":"bottom","values":[-0.4,-0.2,0,0.2,0.4],"labelExpr":"replace(format(datum.value, '.1f'), '\u2212', '-')","offset":-14,"domainDash":[0,15.7,89.6,1000],"labelPadding":5,"title":"Mantel R","titleX":60.5,"titleY":27}},"x2":{"field":"b"},
   "y":{"field":"n","type":"quantitative","scale":{"domain":[-0.61,3.123],"nice":false,"zero":false},"axis":{"orient":"left","values":[0,0.5,1,1.5,2,2.5,3],"labelExpr":"datum.value % 1 == 0 ? format(datum.value, '.1f') : ''","domainDash":[0,18.3,90,1000],"title":"Frequency","titleX":-28,"titleY":49}},"y2":{"datum":0}}},
 {"data":{"name":"hc2"},"mark":{"type":"rect","fillOpacity":0,"stroke":"#2a2aff","strokeWidth":0.8},
  "encoding":{"x":{"field":"a","type":"quantitative","scale":{"domain":[-0.54,0.54],"nice":false,"zero":false},"axis":{"orient":"top","domain":false,"title":"Mantel R","titleX":57,"titleY":-16}},"x2":{"field":"b"},
   "y":{"field":"n","type":"quantitative","scale":{"domain":[-0.61,3.123],"nice":false,"zero":false},"axis":null},"y2":{"datum":0}}}
 ]},
{"width":121,"height":112,"resolve":{"axis":{"x":"independent","y":"independent"}},
 "layer":[
 {"data":{"name":"hc3"},"mark":{"type":"rect","color":"#ff0000"},
  "encoding":{"x":{"field":"a","type":"quantitative","scale":{"domain":[-0.04,1.04],"nice":false,"zero":false},"axis":{"orient":"bottom","values":[0,0.2,0.4,0.6,0.8,1],"format":".1f","offset":-14,"domainDash":[0,4.5,112,1000],"labelPadding":5,"title":"Mantel R","titleX":60.5,"titleY":27}},"x2":{"field":"b"},
   "y":{"field":"n","type":"quantitative","scale":{"domain":[-0.61,3.123],"nice":false,"zero":false},"axis":{"orient":"left","values":[0,0.5,1,1.5,2,2.5,3],"labelExpr":"datum.value % 1 == 0 ? format(datum.value, '.1f') : ''","domainDash":[0,18.3,90,1000],"title":"Frequency","titleX":-23,"titleY":49}},"y2":{"datum":0}}},
 {"data":{"name":"hc3"},"mark":{"type":"rect","fillOpacity":0,"stroke":"#ff3030","strokeWidth":0.8},
  "encoding":{"x":{"field":"a","type":"quantitative","scale":{"domain":[-0.04,1.04],"nice":false,"zero":false},"axis":{"orient":"top","domain":false,"title":"Mantel R","titleX":57,"titleY":-16}},"x2":{"field":"b"},
   "y":{"field":"n","type":"quantitative","scale":{"domain":[-0.61,3.123],"nice":false,"zero":false},"axis":null},"y2":{"datum":0}}}
 ]},
{"width":121,"height":112,"resolve":{"axis":{"x":"independent","y":"independent"}},
 "layer":[
 {"data":{"name":"hc4"},"mark":{"type":"rect","color":"#0000ff"},
  "encoding":{"x":{"field":"a","type":"quantitative","scale":{"domain":[-0.04,1.04],"nice":false,"zero":false},"axis":{"orient":"bottom","values":[0,0.2,0.4,0.6,0.8,1],"format":".1f","offset":-14,"domainDash":[0,4.5,112,1000],"labelPadding":5,"title":"Mantel R","titleX":60.5,"titleY":27}},"x2":{"field":"b"},
   "y":{"field":"n","type":"quantitative","scale":{"domain":[-0.407,2.082],"nice":false,"zero":false},"axis":{"orient":"left","values":[0,0.5,1,1.5,2],"format":".1f","domainDash":[0,18.3,90,1000],"title":"Frequency","titleX":-27,"titleY":49}},"y2":{"datum":0}}},
 {"data":{"name":"hc4"},"mark":{"type":"rect","fillOpacity":0,"stroke":"#3030ff","strokeWidth":0.8},
  "encoding":{"x":{"field":"a","type":"quantitative","scale":{"domain":[-0.04,1.04],"nice":false,"zero":false},"axis":{"orient":"top","domain":false,"title":"Mantel R","titleX":60,"titleY":-16}},"x2":{"field":"b"},
   "y":{"field":"n","type":"quantitative","scale":{"domain":[-0.407,2.082],"nice":false,"zero":false},"axis":null},"y2":{"datum":0}}}
 ]},

{"width":121,"height":102,"view":{"stroke":"#333","strokeWidth":1.2},"resolve":{"axis":{"x":"independent","y":"independent"}},
 "layer":[
 {"data":{"name":"d1"},"mark":{"type":"circle","size":16,"color":"#ff0000","opacity":0.2},
  "encoding":{"x":{"field":"x","type":"quantitative","scale":{"domain":[33.4,103.6],"nice":false,"zero":false},"axis":{"orient":"bottom","domain":false,"values":[40,50,60,70,80,90,100],"format":"d","labelPadding":2.5,"title":"Enviornmental Variable 1","titleX":60.5,"titleY":30}},
   "y":{"field":"y","type":"quantitative","scale":{"domain":[-0.06,1.06],"nice":false,"zero":false},"axis":{"orient":"left","domain":false,"values":[0,0.2,0.4,0.6,0.8,1],"format":".1f","title":"Adaptive allele A frequency","titleX":-25,"titleY":51}}}},
 {"data":{"name":"ld1"},"mark":{"type":"line","color":"#e8474a","strokeWidth":1,"clip":true},
  "encoding":{"x":{"field":"x","type":"quantitative","scale":{"domain":[33.4,103.6],"nice":false,"zero":false},"axis":{"orient":"top","domain":false,"title":["Adaptive allele frequency","(weak selection)"],"titleX":60,"titleY":-15,"titleLineHeight":10}},
   "y":{"field":"y","type":"quantitative","scale":{"domain":[-0.06,1.06],"nice":false,"zero":false},"axis":{"orient":"right","domain":false,"title":"(e)","titleX":-144,"titleY":159}}}}
 ]},
{"width":121,"height":102,"view":{"stroke":"#333","strokeWidth":1.2},"resolve":{"axis":{"x":"independent","y":"independent"}},
 "layer":[
 {"data":{"name":"d2"},"mark":{"type":"circle","size":16,"color":"#0000ff","opacity":0.17},
  "encoding":{"x":{"field":"x","type":"quantitative","scale":{"domain":[33.4,103.6],"nice":false,"zero":false},"axis":{"orient":"bottom","domain":false,"values":[40,50,60,70,80,90,100],"format":"d","labelPadding":2.5,"title":"Environmental Variable 1","titleX":60.5,"titleY":30}},
   "y":{"field":"y","type":"quantitative","scale":{"domain":[-0.06,1.06],"nice":false,"zero":false},"axis":{"orient":"left","domain":false,"values":[0,0.2,0.4,0.6,0.8,1],"format":".1f","title":"Adaptive allele A frequency","titleX":-29,"titleY":51}}}},
 {"data":{"name":"ld2"},"mark":{"type":"line","color":"#4a4ad8","strokeWidth":1,"clip":true},
  "encoding":{"x":{"field":"x","type":"quantitative","scale":{"domain":[33.4,103.6],"nice":false,"zero":false},"axis":{"orient":"top","domain":false,"title":["Adaptive allele frequency","(weak selection)"],"titleX":56,"titleY":-15,"titleLineHeight":10}},
   "y":{"field":"y","type":"quantitative","scale":{"domain":[-0.06,1.06],"nice":false,"zero":false},"axis":null}}}
 ]},
{"width":121,"height":102,"view":{"stroke":"#333","strokeWidth":1.2},"resolve":{"axis":{"x":"independent","y":"independent"}},
 "layer":[
 {"data":{"name":"d3"},"mark":{"type":"circle","size":16,"color":"#ff0000","opacity":0.2},
  "encoding":{"x":{"field":"x","type":"quantitative","scale":{"domain":[33.4,103.6],"nice":false,"zero":false},"axis":{"orient":"bottom","domain":false,"values":[40,50,60,70,80,90,100],"format":"d","labelPadding":2.5,"title":"Enviornmental Variable 1","titleX":60.5,"titleY":30}},
   "y":{"field":"y","type":"quantitative","scale":{"domain":[-0.06,1.06],"nice":false,"zero":false},"axis":{"orient":"left","domain":false,"values":[0,0.2,0.4,0.6,0.8,1],"format":".1f","title":"Adaptive allele A frequency","titleX":-16,"titleY":51}}}},
 {"data":{"name":"ld3"},"mark":{"type":"line","color":"#e8474a","strokeWidth":1,"clip":true},
  "encoding":{"x":{"field":"x","type":"quantitative","scale":{"domain":[33.4,103.6],"nice":false,"zero":false},"axis":{"orient":"top","domain":false,"title":["Adaptive allele frequency","(weak selection)"],"titleX":59,"titleY":-15,"titleLineHeight":10}},
   "y":{"field":"y","type":"quantitative","scale":{"domain":[-0.06,1.06],"nice":false,"zero":false},"axis":null}}}
 ]},
{"width":121,"height":102,"view":{"stroke":"#333","strokeWidth":1.2},"resolve":{"axis":{"x":"independent","y":"independent"}},
 "layer":[
 {"data":{"name":"d4"},"mark":{"type":"circle","size":16,"color":"#0000ff","opacity":0.17},
  "encoding":{"x":{"field":"x","type":"quantitative","scale":{"domain":[33.4,103.6],"nice":false,"zero":false},"axis":{"orient":"bottom","domain":false,"values":[40,50,60,70,80,90,100],"format":"d","labelPadding":2.5,"title":"Environmental Variable 1","titleX":60.5,"titleY":30}},
   "y":{"field":"y","type":"quantitative","scale":{"domain":[-0.06,1.06],"nice":false,"zero":false},"axis":{"orient":"left","domain":false,"values":[0,0.2,0.4,0.6,0.8,1],"format":".1f","title":"Adaptive allele A frequency","titleX":-30,"titleY":51}}}},
 {"data":{"name":"ld4"},"mark":{"type":"line","color":"#4a4ad8","strokeWidth":1,"clip":true},
  "encoding":{"x":{"field":"x","type":"quantitative","scale":{"domain":[33.4,103.6],"nice":false,"zero":false},"axis":{"orient":"top","domain":false,"title":["Adaptive allele frequency","(weak selection)"],"titleX":60,"titleY":-15,"titleLineHeight":10}},
   "y":{"field":"y","type":"quantitative","scale":{"domain":[-0.06,1.06],"nice":false,"zero":false},"axis":null}}}
 ]},

{"width":121,"height":114,"resolve":{"axis":{"x":"independent","y":"independent"}},
 "layer":[
 {"data":{"name":"e1"},"mark":{"type":"circle","size":16,"color":"#ff0000","opacity":0.2},
  "encoding":{"x":{"field":"x","type":"quantitative","scale":{"domain":[79.1,210.9],"nice":false,"zero":false},"axis":{"orient":"bottom","values":[80,100,120,140,160,180,200],"format":"d","labelPadding":1,"title":"Enviornmental Variable 2","titleX":60.5,"titleY":25}},
   "y":{"field":"y","type":"quantitative","scale":{"domain":[-0.0532,1.1596],"nice":false,"zero":false},"axis":{"orient":"left","values":[0,0.2,0.4,0.6,0.8,1],"format":".1f","domainDash":[102,1000],"title":"Adaptive allele B frequency","titleX":-25,"titleY":63}}}},
 {"data":{"name":"le1"},"mark":{"type":"line","color":"#e8474a","strokeWidth":1,"clip":true},
  "encoding":{"x":{"field":"x","type":"quantitative","scale":{"domain":[79.1,210.9],"nice":false,"zero":false},"axis":{"orient":"top","offset":-12,"domain":true,"title":["Adaptive allele frequency","(strong selection)"],"titleX":60,"titleY":-14,"titleLineHeight":11.5}},
   "y":{"field":"y","type":"quantitative","scale":{"domain":[-0.0532,1.1596],"nice":false,"zero":false},"axis":{"orient":"right","domain":true,"domainDash":[102,1000],"title":null}}}}
 ]},
{"width":121,"height":114,"resolve":{"axis":{"x":"independent","y":"independent"}},
 "layer":[
 {"data":{"name":"e2"},"mark":{"type":"circle","size":16,"color":"#0000ff","opacity":0.17},
  "encoding":{"x":{"field":"x","type":"quantitative","scale":{"domain":[79.1,210.9],"nice":false,"zero":false},"axis":{"orient":"bottom","values":[80,100,120,140,160,180,200],"format":"d","labelPadding":1,"title":"Environmental Variable 2","titleX":60.5,"titleY":25}},
   "y":{"field":"y","type":"quantitative","scale":{"domain":[-0.0532,1.1596],"nice":false,"zero":false},"axis":{"orient":"left","values":[0,0.2,0.4,0.6,0.8,1],"format":".1f","domainDash":[102,1000],"title":"Adaptive allele B frequency","titleX":-28,"titleY":63}}}},
 {"data":{"name":"le2"},"mark":{"type":"line","color":"#4a4ad8","strokeWidth":1,"clip":true},
  "encoding":{"x":{"field":"x","type":"quantitative","scale":{"domain":[79.1,210.9],"nice":false,"zero":false},"axis":{"orient":"top","offset":-12,"domain":true,"title":["Adaptive allele frequency","(strong selection)"],"titleX":57,"titleY":-14,"titleLineHeight":11.5}},
   "y":{"field":"y","type":"quantitative","scale":{"domain":[-0.0532,1.1596],"nice":false,"zero":false},"axis":{"orient":"right","domain":true,"domainDash":[102,1000],"title":null}}}}
 ]},
{"width":121,"height":114,"resolve":{"axis":{"x":"independent","y":"independent"}},
 "layer":[
 {"data":{"name":"e3"},"mark":{"type":"circle","size":16,"color":"#ff0000","opacity":0.2},
  "encoding":{"x":{"field":"x","type":"quantitative","scale":{"domain":[79.1,210.9],"nice":false,"zero":false},"axis":{"orient":"bottom","values":[80,100,120,140,160,180,200],"format":"d","labelPadding":1,"title":"Enviornmental Variable 2","titleX":60.5,"titleY":25}},
   "y":{"field":"y","type":"quantitative","scale":{"domain":[-0.0532,1.1596],"nice":false,"zero":false},"axis":{"orient":"left","values":[0,0.2,0.4,0.6,0.8,1],"format":".1f","domainDash":[102,1000],"title":"Adaptive allele B frequency","titleX":-26,"titleY":63}}}},
 {"data":{"name":"le3"},"mark":{"type":"line","color":"#e8474a","strokeWidth":1,"clip":true},
  "encoding":{"x":{"field":"x","type":"quantitative","scale":{"domain":[79.1,210.9],"nice":false,"zero":false},"axis":{"orient":"top","offset":-12,"domain":true,"title":["Adaptive allele frequency","(strong selection)"],"titleX":52,"titleY":-14,"titleLineHeight":11.5}},
   "y":{"field":"y","type":"quantitative","scale":{"domain":[-0.0532,1.1596],"nice":false,"zero":false},"axis":{"orient":"right","domain":true,"domainDash":[102,1000],"title":null}}}}
 ]},
{"width":121,"height":114,"resolve":{"axis":{"x":"independent","y":"independent"}},
 "layer":[
 {"data":{"name":"e4"},"mark":{"type":"circle","size":16,"color":"#0000ff","opacity":0.17},
  "encoding":{"x":{"field":"x","type":"quantitative","scale":{"domain":[79.1,210.9],"nice":false,"zero":false},"axis":{"orient":"bottom","values":[80,100,120,140,160,180,200],"format":"d","labelPadding":1,"title":"Environmental Variable 2","titleX":60.5,"titleY":25}},
   "y":{"field":"y","type":"quantitative","scale":{"domain":[-0.0532,1.1596],"nice":false,"zero":false},"axis":{"orient":"left","values":[0,0.2,0.4,0.6,0.8,1],"format":".1f","domainDash":[102,1000],"title":"Adaptive allele B frequency","titleX":-23,"titleY":63}}}},
 {"data":{"name":"le4"},"mark":{"type":"line","color":"#4a4ad8","strokeWidth":1,"clip":true},
  "encoding":{"x":{"field":"x","type":"quantitative","scale":{"domain":[79.1,210.9],"nice":false,"zero":false},"axis":{"orient":"top","offset":-12,"domain":true,"title":["Adaptive allele frequency","(strong selection)"],"titleX":62,"titleY":-14,"titleLineHeight":11.5}},
   "y":{"field":"y","type":"quantitative","scale":{"domain":[-0.0532,1.1596],"nice":false,"zero":false},"axis":{"orient":"right","domain":true,"domainDash":[102,1000],"title":null}}}}
 ]}
]
}
